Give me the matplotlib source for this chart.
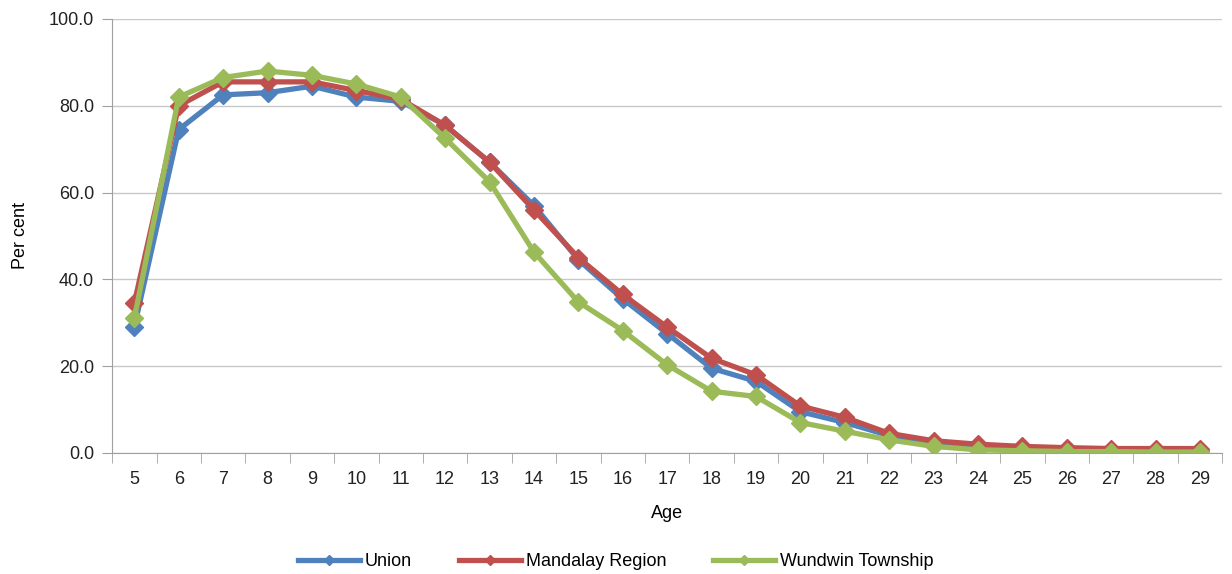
import matplotlib
matplotlib.use("Agg")
import matplotlib.pyplot as plt
import numpy as np

plt.rcParams['font.family'] = ['Liberation Sans', 'DejaVu Sans']

ages = [str(a) for a in range(5, 30)]
union = [29.0, 74.5, 82.5, 83.0, 84.5, 82.0, 81.0, 75.5, 67.0, 57.0, 44.5, 35.5,
         27.5, 19.5, 16.5, 9.5, 7.0, 4.0, 2.5, 1.5, 1.0, 0.8, 0.6, 0.5, 0.4]
mandalay = [34.5, 80.0, 85.5, 85.5, 85.5, 83.5, 81.5, 75.5, 67.0, 56.0, 45.0, 36.5,
            29.0, 21.8, 18.0, 10.8, 8.2, 4.5, 2.8, 2.0, 1.5, 1.2, 1.0, 1.0, 1.0]
wundwin = [31.0, 82.0, 86.5, 88.0, 87.0, 85.0, 82.0, 72.5, 62.5, 46.3, 34.8, 28.2,
           20.3, 14.2, 13.0, 7.0, 5.0, 3.0, 1.5, 0.7, 0.5, 0.3, 0.3, 0.2, 0.2]

series = [("Union", union, "#4F81BD"),
          ("Mandalay Region", mandalay, "#C0504D"),
          ("Wundwin Township", wundwin, "#9BBB59")]

fig = plt.figure(figsize=(12.32, 5.74), dpi=100)
ax = fig.add_axes([0.091, 0.211, 0.901, 0.756])

x = np.arange(len(ages))
for name, vals, col in series:
    ax.plot(x, vals, color=col, lw=3.8, marker="D", ms=9.5, mec=col, mfc=col, label=name)

ax.set_xlim(-0.5, len(ages) - 0.5)
ax.set_ylim(0, 100)
ax.set_yticks(np.arange(0, 101, 20))
ax.set_yticklabels([f"{v:.1f}" for v in np.arange(0, 101, 20)])
ax.set_xticks(x)
ax.set_xticklabels(ages)
ax.set_xticks(np.arange(-0.5, len(ages), 1), minor=True)
ax.tick_params(axis="x", which="major", length=0, pad=13)
ax.tick_params(axis="x", which="minor", length=7, color="#A0A0A0")
ax.tick_params(axis="y", length=7, color="#A0A0A0", pad=6)
ax.tick_params(labelsize=13, labelcolor="#222222")

ax.grid(axis="y", color="#C8C8C8", lw=1)
ax.set_axisbelow(True)
for s in ["top", "right"]:
    ax.spines[s].set_visible(False)
for s in ["left", "bottom"]:
    ax.spines[s].set_color("#A0A0A0")

ax.set_xlabel("Age", fontsize=13, labelpad=12)
ax.set_ylabel("Per cent", fontsize=13, labelpad=14)

fig.legend(loc="lower center", bbox_to_anchor=(0.5, -0.022), ncol=3, frameon=False,
           fontsize=13, handlelength=3.4, handletextpad=0.3, columnspacing=2.6,
           markerscale=0.5)

fig.savefig("out.png", dpi=100)
